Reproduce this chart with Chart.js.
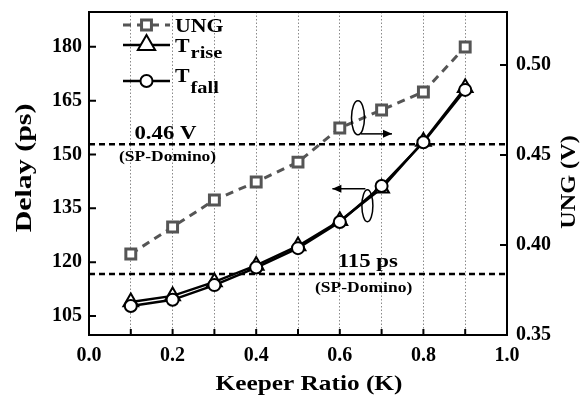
<!DOCTYPE html>
<html><head><meta charset="utf-8">
<script src="https://cdn.jsdelivr.net/npm/chart.js@4/dist/chart.umd.min.js"></script>
<style>html,body{margin:0;padding:0;background:#fff;}#wrap{width:582px;height:397px;position:relative;}</style>
</head><body><div id="wrap"><canvas id="c"></canvas></div>
<script>
// ---- data ----
const keeperRatio = [0.1, 0.2, 0.3, 0.4, 0.5, 0.6, 0.7, 0.8, 0.9];
const ungVolts    = [0.395, 0.410, 0.425, 0.435, 0.446, 0.465, 0.475, 0.485, 0.510];
const tRisePs     = [108.9, 110.6, 114.5, 119.1, 124.5, 131.5, 140.6, 153.6, 168.6];
const tFallPs     = [107.8, 109.5, 113.6, 118.5, 123.9, 131.2, 141.2, 153.4, 168.0];
const delayTicks  = [105, 120, 135, 150, 165, 180];
const ungTicks    = [0.35, 0.40, 0.45, 0.50];
const xTicks      = [0.0, 0.1, 0.2, 0.3, 0.4, 0.5, 0.6, 0.7, 0.8, 0.9, 1.0];
const refUngV     = 0.456;   // "0.46 V (SP-Domino)" reference line
const refDelayPs  = 116.7;   // "115 ps (SP-Domino)" reference line

const SERIF = '"Liberation Serif", "Times New Roman", serif';
const GRAY = '#555555';
const pts = (ys) => keeperRatio.map((x, i) => ({x, y: ys[i]}));

function txt(ctx, s, x, y, size, align, sx) {
  ctx.save();
  ctx.translate(x, y);
  ctx.scale(sx || 1, 1);
  ctx.font = 'bold ' + size + 'px ' + SERIF;
  ctx.fillStyle = '#000';
  ctx.textAlign = align || 'left';
  ctx.textBaseline = 'alphabetic';
  ctx.fillText(s, 0, 0);
  const w = ctx.measureText(s).width * (sx || 1);
  ctx.restore();
  return w;
}

const decor = {
  id: 'decor',
  beforeDatasetsDraw(chart) {
    const {ctx, chartArea: a, scales} = chart;
    ctx.save();
    ctx.strokeStyle = '#000'; ctx.lineWidth = 2.5; ctx.setLineDash([6, 4]);
    [scales.y1.getPixelForValue(refUngV), scales.y.getPixelForValue(refDelayPs)].forEach(py => {
      ctx.beginPath(); ctx.moveTo(a.left, py); ctx.lineTo(a.right, py); ctx.stroke();
    });
    ctx.restore();
  },
  afterDraw(chart) {
    const {ctx, chartArea: a, scales} = chart;
    const xs = scales.x, yL = scales.y, yR = scales.y1;
    ctx.save();
    // frame
    ctx.strokeStyle = '#000'; ctx.lineWidth = 2; ctx.setLineDash([]);
    ctx.strokeRect(a.left, a.top, a.right - a.left, a.bottom - a.top);
    // inward ticks
    ctx.lineWidth = 2;
    ctx.beginPath();
    delayTicks.forEach(v => { const p = yL.getPixelForValue(v); ctx.moveTo(a.left, p); ctx.lineTo(a.left + 7, p); });
    ungTicks.forEach(v => { const p = yR.getPixelForValue(v); ctx.moveTo(a.right, p); ctx.lineTo(a.right - 7, p); });
    xTicks.forEach(v => { const p = xs.getPixelForValue(v); ctx.moveTo(p, a.bottom); ctx.lineTo(p, a.bottom - 6); });
    ctx.stroke();

    // axis titles
    txt(ctx, 'Keeper Ratio (K)', (a.left + a.right) / 2 + 11, 390, 22, 'center', 1.15);
    ctx.save(); ctx.translate(31, 168); ctx.rotate(-Math.PI / 2);
    txt(ctx, 'Delay (ps)', 0, 0, 23, 'center', 1.3); ctx.restore();
    ctx.save(); ctx.translate(575, 182); ctx.rotate(-Math.PI / 2);
    txt(ctx, 'UNG (V)', 0, 0, 22, 'center', 1.1); ctx.restore();

    // legend
    const lx0 = 123, lx1 = 170, mx = 146.5, tx = 175;
    const ds = chart.data.datasets;
    const rows = [
      {d: ds[0], y: 25},
      {d: ds[1], y: 45},
      {d: ds[2], y: 81}
    ];
    rows.forEach((r, i) => {
      ctx.save();
      ctx.strokeStyle = r.d.borderColor; ctx.lineWidth = r.d.borderWidth;
      ctx.setLineDash(r.d.borderDash || []);
      ctx.beginPath(); ctx.moveTo(lx0, r.y); ctx.lineTo(lx1, r.y); ctx.stroke();
      ctx.setLineDash([]);
      ctx.fillStyle = '#fff'; ctx.strokeStyle = r.d.pointBorderColor; ctx.lineWidth = r.d.pointBorderWidth;
      Chart.helpers.drawPoint(ctx, {pointStyle: r.d.pointStyle, radius: i === 1 ? 10 : r.d.pointRadius, rotation: 0, borderWidth: r.d.pointBorderWidth}, mx, r.y);
      ctx.restore();
    });
    txt(ctx, 'UNG', tx, 32, 19, 'left', 1.15);
    let w = txt(ctx, 'T', tx, 52, 19, 'left', 1.15);
    txt(ctx, 'rise', tx + w + 1, 58, 17, 'left', 1.2);
    w = txt(ctx, 'T', tx, 82, 19, 'left', 1.15);
    txt(ctx, 'fall', tx + w + 1, 93, 17, 'left', 1.2);

    // annotations
    const pV = yR.getPixelForValue(refUngV), pD = yL.getPixelForValue(refDelayPs);
    txt(ctx, '0.46 V', xs.getPixelForValue(0.183), pV - 5, 19, 'center', 1.2);
    txt(ctx, '(SP-Domino)', xs.getPixelForValue(0.188), pV + 17, 14, 'center', 1.25);
    txt(ctx, '115 ps', xs.getPixelForValue(0.667), pD - 7, 19, 'center', 1.2);
    txt(ctx, '(SP-Domino)', xs.getPixelForValue(0.657), pD + 18, 14, 'center', 1.25);

    // ellipses + arrows
    ctx.strokeStyle = '#000'; ctx.lineWidth = 1.5;
    const e1x = xs.getPixelForValue(0.6435), e1y = yR.getPixelForValue(0.4706);
    ctx.beginPath(); ctx.ellipse(e1x, e1y, 6.5, 17, 0, 0, Math.PI * 2); ctx.stroke();
    const e2x = xs.getPixelForValue(0.666), e2y = yL.getPixelForValue(135.7);
    ctx.beginPath(); ctx.ellipse(e2x, e2y, 5.5, 16, 0, 0, Math.PI * 2); ctx.stroke();
    function arrow(x0, y0, x1, y1) {
      ctx.beginPath(); ctx.moveTo(x0, y0); ctx.lineTo(x1, y1); ctx.stroke();
      const d = Math.sign(x1 - x0);
      ctx.beginPath(); ctx.moveTo(x1, y1); ctx.lineTo(x1 - d * 9, y1 - 4); ctx.lineTo(x1 - d * 9, y1 + 4); ctx.closePath(); ctx.fillStyle = '#000'; ctx.fill();
    }
    arrow(e1x + 3, e1y + 16, e1x + 34, e1y + 16);
    arrow(e2x - 2, e2y - 17, e2x - 35, e2y - 17);
    ctx.restore();
  }
};

const noPad = s => { s.paddingTop = 0; s.paddingBottom = 0; };

new Chart(document.getElementById('c'), {
  type: 'line',
  data: {
    datasets: [
      {label: 'UNG', data: pts(ungVolts), yAxisID: 'y1', borderColor: GRAY, borderWidth: 3, borderDash: [8, 6],
       pointStyle: 'rect', pointRadius: 7, pointBorderWidth: 3, pointBorderColor: GRAY, pointBackgroundColor: '#fff', order: 2},
      {label: 'Trise', data: pts(tRisePs), yAxisID: 'y', borderColor: '#000', borderWidth: 2.5,
       pointStyle: 'triangle', pointRadius: 8.5, pointBorderWidth: 2, pointBorderColor: '#000', pointBackgroundColor: '#fff', order: 1},
      {label: 'Tfall', data: pts(tFallPs), yAxisID: 'y', borderColor: '#000', borderWidth: 2.5,
       pointStyle: 'circle', pointRadius: 6, pointBorderWidth: 2, pointBorderColor: '#000', pointBackgroundColor: '#fff', order: 0}
    ]
  },
  options: {
    responsive: true, maintainAspectRatio: false, animation: false,
    layout: {padding: {top: 12, left: 0, right: 0, bottom: 0}},
    plugins: {legend: {display: false}, tooltip: {enabled: false}},
    scales: {
      x: {
        type: 'linear', min: 0, max: 1,
        afterBuildTicks: s => { s.ticks = xTicks.map(v => ({value: v})); },
        afterFit: s => { s.height = 62; s.paddingLeft = 0; s.paddingRight = 0; },
        ticks: {autoSkip: false, maxRotation: 0, padding: 9, color: '#000',
                font: {family: SERIF, size: 20, weight: 'bold'},
                callback: (v, i) => (i % 2 === 0 ? Number(v).toFixed(1) : '')},
        grid: {color: '#8a8a8a', lineWidth: 1, drawTicks: false},
        border: {display: false, dash: [1.5, 2]}
      },
      y: {
        type: 'linear', position: 'left', min: 99.7, max: 189.7,
        afterBuildTicks: s => { s.ticks = delayTicks.map(v => ({value: v})); },
        afterFit: s => { s.width = 89; noPad(s); },
        ticks: {padding: 7, color: '#000', font: {family: SERIF, size: 20, weight: 'bold'}},
        grid: {display: false, drawTicks: false},
        border: {display: false}
      },
      y1: {
        type: 'linear', position: 'right', min: 0.35, max: 0.5294,
        afterBuildTicks: s => { s.ticks = ungTicks.map(v => ({value: v})); },
        afterFit: s => { s.width = 75; noPad(s); },
        ticks: {padding: 9, color: '#000', font: {family: SERIF, size: 20, weight: 'bold'},
                callback: v => Number(v).toFixed(2)},
        grid: {display: false, drawTicks: false},
        border: {display: false}
      }
    }
  },
  plugins: [decor]
});
</script></body></html>
